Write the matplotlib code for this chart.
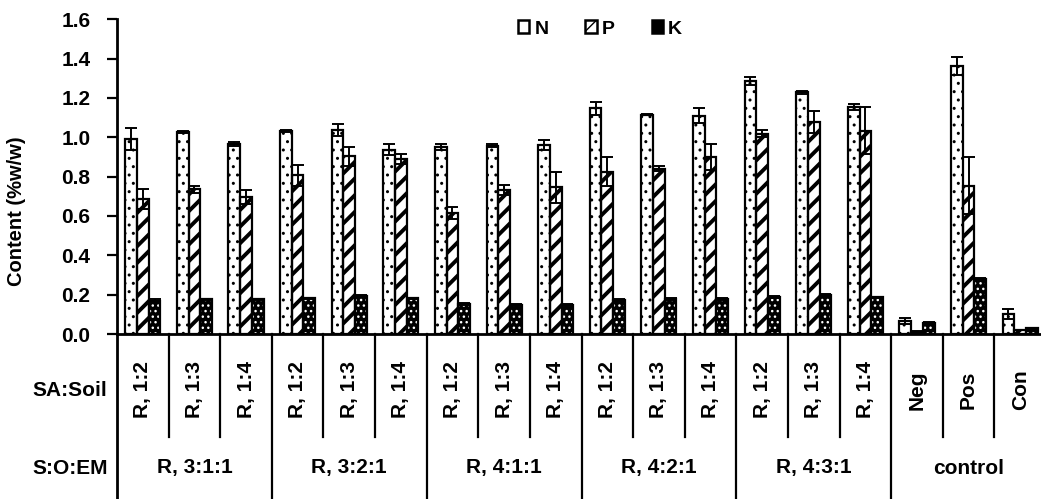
import matplotlib
matplotlib.use("Agg")
import matplotlib.pyplot as plt
import matplotlib.transforms as mtransforms
from matplotlib.patches import Patch
import numpy as np

plt.rcParams['font.family'] = ['Liberation Sans', 'DejaVu Sans']
plt.rcParams['font.weight'] = 'bold'

# treatment labels
sub_labels = ['R, 1:2', 'R, 1:3', 'R, 1:4'] * 5 + ['Neg', 'Pos', 'Con']
group_labels = ['R, 3:1:1', 'R, 3:2:1', 'R, 4:1:1', 'R, 4:2:1', 'R, 4:3:1', 'control']

# nutrient content (%w/w) and error
N = [0.99, 1.025, 0.966, 1.032, 1.039, 0.937, 0.951, 0.958, 0.961,
     1.147, 1.115, 1.110, 1.288, 1.229, 1.153, 0.066, 1.364, 0.103]
N_err = [0.055, 0.005, 0.010, 0.003, 0.030, 0.027, 0.013, 0.007, 0.024,
         0.033, 0.002, 0.037, 0.020, 0.007, 0.015, 0.014, 0.046, 0.026]
P = [0.686, 0.735, 0.695, 0.807, 0.903, 0.890, 0.615, 0.732, 0.746,
     0.825, 0.841, 0.900, 1.019, 1.078, 1.034, 0.012, 0.754, 0.020]
P_err = [0.050, 0.020, 0.035, 0.054, 0.050, 0.025, 0.030, 0.027, 0.078,
         0.073, 0.013, 0.064, 0.017, 0.058, 0.120, 0.002, 0.144, 0.002]
K = [0.168, 0.176, 0.176, 0.181, 0.193, 0.181, 0.151, 0.146, 0.146,
     0.173, 0.178, 0.178, 0.188, 0.200, 0.186, 0.058, 0.278, 0.029]
K_err = [0.010, 0.004, 0.004, 0.004, 0.005, 0.004, 0.006, 0.004, 0.004,
         0.004, 0.004, 0.004, 0.004, 0.004, 0.004, 0.003, 0.006, 0.003]

W, H = 1041, 499
fig = plt.figure(figsize=(W / 100, H / 100), dpi=100)
ax = fig.add_axes([117 / W, 1 - 334 / H, 929 / W, (334 - 19.3) / H])

x = np.arange(len(sub_labels))
bw = 0.227
lw = 1.6


def hatched_bar(xs, vals, face, edge, hatch, hlw):
    with plt.rc_context({'hatch.linewidth': hlw}):
        bars = ax.bar(xs, vals, bw, color=face, edgecolor=edge, hatch=hatch, linewidth=0, zorder=2)
    for b in bars:
        if hasattr(b, 'set_hatch_linewidth'):
            b.set_hatch_linewidth(hlw)
    return bars


# N: white with sparse dots
hatched_bar(x - bw, N, 'white', 'black', '..', 1.0)
ax.bar(x - bw, N, bw, color='none', edgecolor='black', linewidth=lw, zorder=3)
# P: thick diagonal stripes
hatched_bar(x, P, 'white', 'black', '//', 2.8)
ax.bar(x, P, bw, color='none', edgecolor='black', linewidth=lw, zorder=3)
# K: black with white dots
hatched_bar(x + bw, K, 'black', 'white', '...', 1.0)
ax.bar(x + bw, K, bw, color='none', edgecolor='black', linewidth=lw, zorder=3)

for xs, vals, err in [(x - bw, N, N_err), (x, P, P_err), (x + bw, K, K_err)]:
    ax.errorbar(xs, vals, yerr=err, fmt='none', ecolor='black',
                elinewidth=1.4, capsize=4, capthick=1.4, zorder=4)

ax.set_xlim(-0.5, len(sub_labels) - 0.5)
ax.set_ylim(0, 1.6)
ax.set_yticks(np.arange(0, 1.61, 0.2))
ax.set_yticklabels([f'{v:.1f}' for v in np.arange(0, 1.61, 0.2)])
ax.tick_params(axis='y', length=7, width=1.6, pad=12, labelsize=15)
ax.set_xticks([])
for s in ['top', 'right']:
    ax.spines[s].set_visible(False)
ax.spines['left'].set_linewidth(2)
ax.spines['bottom'].set_linewidth(2)

ax.set_ylabel('Content (%w/w)', fontsize=14.5, fontweight='bold')
ax.yaxis.set_label_coords(-91 / 929, 0.39)

# category table below the axis
trans = mtransforms.blended_transform_factory(ax.transData, ax.transAxes)
ax_h = 334 - 19.3
full_bot = -(H - 334) / ax_h
short_bot = -(437 - 334) / ax_h
ax.plot([-0.5, -0.5], [0, full_bot], color='black', lw=2, transform=trans, clip_on=False)
for b in range(1, len(sub_labels) + 1):
    bot = full_bot if b % 3 == 0 else short_bot
    ax.plot([b - 0.5, b - 0.5], [0, bot], color='black', lw=1.6,
            transform=trans, clip_on=False)

for xi, lab in zip(x, sub_labels):
    ax.text(xi, -(390 - 334) / ax_h, lab, rotation=90, ha='center', va='center',
            fontsize=15, fontweight='bold', transform=trans)
for g, lab in enumerate(group_labels):
    ax.text(3 * g + 1, -(468 - 334) / ax_h, lab, ha='center', va='center',
            fontsize=15, fontweight='bold', transform=trans)

fig.text(107 / W, 1 - 390 / H, 'SA:Soil', ha='right', va='center', fontsize=15, fontweight='bold')
fig.text(108 / W, 1 - 468 / H, 'S:O:EM', ha='right', va='center', fontsize=15, fontweight='bold')

handles = [Patch(facecolor='white', edgecolor='black', linewidth=1.8, label='N'),
           Patch(facecolor='white', edgecolor='black', hatch='//', linewidth=1.8, label='P'),
           Patch(facecolor='black', edgecolor='black', linewidth=1.8, label='K')]
ax.legend(handles=handles, loc='center', bbox_to_anchor=((600 - 117) / 929, 1 - (29 - 19.3) / ax_h),
          ncol=3, frameon=False, handlelength=0.6, handleheight=0.6,
          handletextpad=0.25, columnspacing=1.9, prop={'weight': 'bold', 'size': 14})

fig.savefig('out.png', dpi=100)
